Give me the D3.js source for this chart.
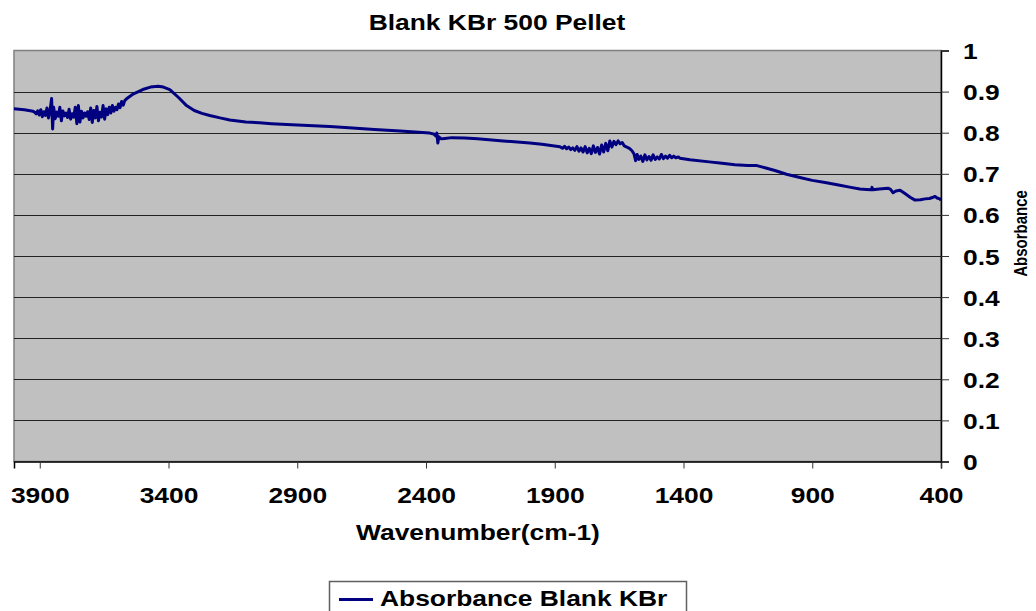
<!DOCTYPE html>
<html>
<head>
<meta charset="utf-8">
<script src="https://cdn.jsdelivr.net/npm/d3@7"></script>
<style>
  html, body { margin: 0; padding: 0; background: #fff; }
  text { font-family: Arial, "Liberation Sans", sans-serif; font-weight: bold; fill: #000; }
</style>
</head>
<body>
<div id="chart"></div>
<script>
/* jshint esversion: 6 */

// Chart texts
var chartTitle = 'Blank KBr 500 Pellet';
var xTitle = 'Wavenumber(cm-1)';
var yTitle = 'Absorbance';
var seriesName = 'Absorbance Blank KBr';

// Axis ticks
var xTicks = [3900, 3400, 2900, 2400, 1900, 1400, 900, 400];
var yTicks = [0, 0.1, 0.2, 0.3, 0.4, 0.5, 0.6, 0.7, 0.8, 0.9, 1];

// Spectrum: [wavenumber, absorbance]
var spectrum = [
  [4000, 0.858], [3960, 0.856], [3926, 0.852],
  // noisy OH region
  [3920, 0.850], [3914, 0.846], [3908, 0.853], [3902, 0.843], [3896, 0.856],
  [3890, 0.839], [3884, 0.851], [3878, 0.842], [3872, 0.860], [3866, 0.836],
  [3860, 0.855], [3854, 0.883], [3850, 0.809], [3846, 0.862], [3840, 0.834],
  [3834, 0.850], [3828, 0.840], [3822, 0.862], [3816, 0.829], [3810, 0.853],
  [3804, 0.841], [3798, 0.848], [3792, 0.837], [3786, 0.857], [3780, 0.833],
  [3774, 0.846], [3768, 0.838], [3762, 0.862], [3756, 0.822], [3750, 0.866],
  [3744, 0.826], [3738, 0.852], [3732, 0.836], [3726, 0.848], [3720, 0.840],
  [3714, 0.851], [3708, 0.832], [3702, 0.860], [3696, 0.825], [3690, 0.854],
  [3684, 0.836], [3678, 0.864], [3672, 0.829], [3666, 0.850], [3660, 0.838],
  [3654, 0.866], [3648, 0.833], [3642, 0.858], [3636, 0.844], [3630, 0.862],
  [3624, 0.848], [3618, 0.866], [3612, 0.852], [3606, 0.862], [3600, 0.856],
  [3594, 0.870], [3588, 0.861], [3582, 0.876], [3576, 0.867], [3570, 0.878],
  // broad hump
  [3560, 0.884], [3540, 0.893], [3500, 0.905], [3470, 0.911], [3440, 0.913],
  [3420, 0.911], [3395, 0.905], [3360, 0.885], [3330, 0.866], [3300, 0.854],
  [3270, 0.847], [3240, 0.842], [3200, 0.836], [3162, 0.831], [3100, 0.826],
  [3046, 0.824], [3000, 0.822], [2900, 0.819], [2774, 0.815], [2700, 0.812],
  [2600, 0.808], [2500, 0.804], [2385, 0.799], [2370, 0.797], [2362, 0.792],
  [2358, 0.799], [2354, 0.775], [2350, 0.790], [2340, 0.785], [2327, 0.786],
  [2300, 0.788], [2250, 0.787], [2200, 0.785], [2100, 0.780], [1997, 0.775],
  [1950, 0.772], [1880, 0.766],
  // noisy water bending region
  [1870, 0.762], [1862, 0.767], [1854, 0.761], [1846, 0.765], [1838, 0.759],
  [1830, 0.763], [1822, 0.757], [1814, 0.766], [1806, 0.755], [1798, 0.763],
  [1790, 0.753], [1782, 0.766], [1774, 0.751], [1766, 0.762], [1758, 0.749],
  [1750, 0.768], [1742, 0.752], [1734, 0.764], [1726, 0.748], [1718, 0.770],
  [1710, 0.753], [1702, 0.774], [1694, 0.756], [1686, 0.780], [1678, 0.765],
  [1670, 0.779], [1662, 0.771], [1654, 0.780], [1646, 0.773], [1638, 0.776],
  [1630, 0.768], [1620, 0.765], [1610, 0.762], [1600, 0.756], [1592, 0.748],
  [1586, 0.732], [1580, 0.747], [1574, 0.735], [1566, 0.743], [1558, 0.730],
  [1550, 0.746], [1542, 0.734], [1534, 0.742], [1526, 0.733], [1518, 0.746],
  [1510, 0.735], [1502, 0.741], [1494, 0.736], [1486, 0.747], [1478, 0.737],
  [1470, 0.743], [1462, 0.738], [1454, 0.745], [1446, 0.739], [1438, 0.743],
  [1430, 0.739], [1420, 0.741], [1414, 0.738],
  // fingerprint tail
  [1375, 0.734], [1300, 0.729], [1259, 0.726], [1200, 0.722], [1150, 0.720],
  [1115, 0.720], [1080, 0.714], [1045, 0.708], [1000, 0.699], [948, 0.691],
  [900, 0.684], [850, 0.679], [793, 0.672], [750, 0.667], [715, 0.663],
  [690, 0.662], [670, 0.661], [668, 0.667], [664, 0.661], [640, 0.663],
  [606, 0.665], [596, 0.662], [586, 0.654], [575, 0.658], [559, 0.660],
  [540, 0.652], [520, 0.643], [501, 0.636], [480, 0.637], [462, 0.639],
  [445, 0.640], [430, 0.643], [423, 0.645], [415, 0.641], [405, 0.639],
  [400, 0.636]
];

var width = 1036, height = 611;
var plot = { left: 14, right: 941, top: 50.5, bottom: 461.5 };
var stretch = 1.2;   // the original text is drawn a bit wide

var svg = d3.select('#chart').append('svg')
  .attr('width', width)
  .attr('height', height);

svg.append('rect')
  .attr('width', width).attr('height', height)
  .attr('fill', '#fff');

var x = d3.scaleLinear().domain([4000, 400]).range([plot.left, plot.right]);
var y = d3.scaleLinear().domain([0, 1]).range([plot.bottom, plot.top]);

// Plot background
svg.append('rect')
  .attr('x', plot.left).attr('y', plot.top)
  .attr('width', plot.right - plot.left)
  .attr('height', plot.bottom - plot.top)
  .attr('fill', '#c0c0c0')
  .attr('stroke', '#808080')
  .attr('stroke-width', 1.5);

// Gridlines
svg.append('g').selectAll('line')
  .data(yTicks.filter(d => d > 0 && d < 1))
  .join('line')
    .attr('x1', plot.left).attr('x2', plot.right)
    .attr('y1', d => Math.round(y(d)) + 0.5)
    .attr('y2', d => Math.round(y(d)) + 0.5)
    .attr('stroke', '#222')
    .attr('stroke-width', 1);

// Series
var line = d3.line()
  .x(d => x(d[0]))
  .y(d => y(d[1]));

svg.append('path')
  .datum(spectrum)
  .attr('d', line)
  .attr('fill', 'none')
  .attr('stroke', '#000080')
  .attr('stroke-width', 3)
  .attr('stroke-linejoin', 'round');

// X axis
var xAxis = svg.append('g')
  .attr('transform', 'translate(0,' + plot.bottom + ')')
  .call(d3.axisBottom(x).tickValues(xTicks).tickSize(7).tickPadding(0)
    .tickFormat(d3.format('d')));
xAxis.select('.domain').attr('stroke', '#000').attr('stroke-width', 1.5);
xAxis.selectAll('.tick line').attr('stroke', '#333');
xAxis.selectAll('.tick text')
  .attr('y', 0).attr('dy', null)
  .attr('transform', 'translate(0,41) scale(' + stretch + ',1)')
  .style('font-size', '22px')
  .style('font-family', 'Arial, "Liberation Sans", sans-serif')
  .style('font-weight', 'bold');

// Y axis on the right
var yAxis = svg.append('g')
  .attr('transform', 'translate(' + plot.right + ',0)')
  .call(d3.axisRight(y).tickValues(yTicks).tickSize(8)
    .tickFormat(d => d3.format('~g')(d)));
yAxis.select('.domain').attr('stroke', '#000').attr('stroke-width', 1.5);
yAxis.selectAll('.tick line').attr('stroke', '#333');
yAxis.selectAll('.tick text')
  .attr('x', 0).attr('dy', null)
  .attr('text-anchor', 'start')
  .attr('transform', 'translate(22,8) scale(' + stretch + ',1)')
  .style('font-size', '22px')
  .style('font-family', 'Arial, "Liberation Sans", sans-serif')
  .style('font-weight', 'bold');

// helper for wide text
function wideText(tx, ty, str, size, anchor) {
  return svg.append('text')
    .attr('transform', 'translate(' + tx + ',' + ty + ') scale(' + stretch + ',1)')
    .attr('text-anchor', anchor || 'middle')
    .style('font-size', size + 'px')
    .text(str);
}

wideText(497, 29.5, chartTitle, 22);
wideText(478, 539.5, xTitle, 22);

// Y title, rotated
svg.append('text')
  .attr('transform', 'translate(1027,233.5) scale(' + stretch + ',1) rotate(-90)')
  .attr('text-anchor', 'middle')
  .style('font-size', '15px')
  .text(yTitle);

// Legend
var legend = svg.append('g');
legend.append('rect')
  .attr('x', 329.5).attr('y', 581.5)
  .attr('width', 357).attr('height', 40)
  .attr('fill', '#fff')
  .attr('stroke', '#606060')
  .attr('stroke-width', 1.5);
legend.append('line')
  .attr('x1', 339).attr('x2', 373)
  .attr('y1', 599.5).attr('y2', 599.5)
  .attr('stroke', '#000080')
  .attr('stroke-width', 3);
legend.append('text')
  .attr('transform', 'translate(380,606) scale(' + stretch + ',1)')
  .style('font-size', '22px')
  .text(seriesName);
</script>
</body>
</html>
